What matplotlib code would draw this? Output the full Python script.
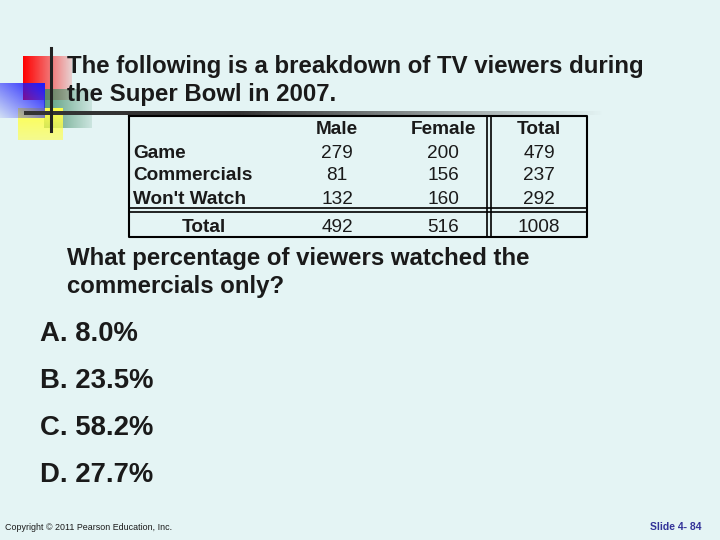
import matplotlib.pyplot as plt
import numpy as np

# table data
col_labels = ['Male', 'Female', 'Total']
row_labels = ['Game', 'Commercials', "Won't Watch"]
male = [279, 81, 132]
female = [200, 156, 160]
total = [479, 237, 292]
col_totals = [492, 516, 1008]

title_lines = ['The following is a breakdown of TV viewers during',
               'the Super Bowl in 2007.']
question_lines = ['What percentage of viewers watched the',
                  'commercials only?']
answers = ['A. 8.0%', 'B. 23.5%', 'C. 58.2%', 'D. 27.7%']
footer_left = 'Copyright \u00a9 2011 Pearson Education, Inc.'
footer_right = 'Slide 4- 84'

bg = '#e4f4f4'
ink = '#1a1a1a'
plt.rcParams['font.family'] = ['Liberation Sans', 'DejaVu Sans']

fig = plt.figure(figsize=(7.2, 5.4), dpi=100, facecolor=bg)
ax = fig.add_axes([0, 0, 1, 1])
ax.axis('off')
ax.set_facecolor(bg)


def grad_box(x0, x1, y0, y1, rgb, direction, a0=1.0, a1=0.0, z=1):
    n = 64
    img = np.zeros((n, n, 4))
    img[..., :3] = rgb
    t = np.linspace(0, 1, n)
    if direction == 'x':
        img[..., 3] = (a0 + (a1 - a0) * t)[None, :]
    elif direction == 'y':
        img[..., 3] = (a0 + (a1 - a0) * t)[:, None]
    else:
        tt = (t[None, :] + (1 - t[:, None])) / 2
        img[..., 3] = a0 + (a1 - a0) * tt
    ax.imshow(img, extent=(x0, x1, y1, y0), aspect='auto', zorder=z,
              interpolation='bilinear')


# decorative squares
grad_box(23, 72, 56, 100, (1.0, 0.0, 0.0), 'x', 1.0, 0.15, z=1)
grad_box(44, 92, 89, 128, (0.25, 0.55, 0.40), 'x', 0.85, 0.15, z=2)
grad_box(0, 45, 83, 118, (0.1, 0.1, 1.0), 'd', 0.1, 1.0, z=3)
grad_box(18, 63, 108, 140, (1.0, 1.0, 0.3), 'y', 1.0, 0.6, z=2)
ax.plot([51, 51], [48, 131], color='#222222', lw=2.2, zorder=5)

# title rule with fade to the right
n = 256
rule = np.zeros((1, n, 4))
rule[..., :3] = 0.2
rule[0, :, 3] = np.clip(np.linspace(1.6, 0.0, n), 0, 1)
ax.imshow(rule, extent=(24, 605, 115, 111), aspect='auto', zorder=4,
          interpolation='bilinear')
ax.set_xlim(0, 720)
ax.set_ylim(540, 0)

for k, line in enumerate(title_lines):
    ax.text(67, 67 + 27 * k, line, fontsize=17.3, fontweight='bold',
            color=ink, va='center', ha='left', zorder=6)

# table
tx0, tx1, ty0, ty1 = 129, 587, 116, 237
ax.plot([tx0, tx1, tx1, tx0, tx0], [ty0, ty0, ty1, ty1, ty0],
        color='black', lw=1.5, zorder=6)
for x in (487, 491):
    ax.plot([x, x], [ty0, ty1], color='black', lw=1.2, zorder=6)
for y in (208, 212):
    ax.plot([tx0, tx1], [y, y], color='black', lw=1.2, zorder=6)

col_x = [337, 443, 539]
row_y = [153, 176, 200]
header_y = 129
total_y = 227
for cx, lab in zip(col_x, col_labels):
    ax.text(cx, header_y, lab, fontsize=13.7, fontweight='bold', ha='center',
            va='center', color=ink)
cols = [male, female, total]
for i, (ry, lab) in enumerate(zip(row_y, row_labels)):
    ax.text(133, ry, lab, fontsize=13.7, fontweight='bold', ha='left',
            va='center', color=ink)
    for cx, col in zip(col_x, cols):
        ax.text(cx, ry, str(col[i]), fontsize=13.7, ha='center', va='center',
                color=ink)
ax.text(204, total_y, 'Total', fontsize=13.7, fontweight='bold', ha='center',
        va='center', color=ink)
for cx, v in zip(col_x, col_totals):
    ax.text(cx, total_y, str(v), fontsize=13.7, ha='center', va='center',
            color=ink)

for k, line in enumerate(question_lines):
    ax.text(67, 258 + 28 * k, line, fontsize=17.3, fontweight='bold',
            color=ink, va='center', ha='left')

for k, a in enumerate(answers):
    ax.text(40, 334 + 47 * k, a, fontsize=19.8, fontweight='bold', color=ink,
            va='center', ha='left')

ax.text(5, 527, footer_left, fontsize=6.4, color=ink, va='center', ha='left')
ax.text(701, 527, footer_right, fontsize=7.5, fontweight='bold',
        color='#333399', va='center', ha='right')

fig.savefig('out.png', dpi=100, facecolor=bg)
